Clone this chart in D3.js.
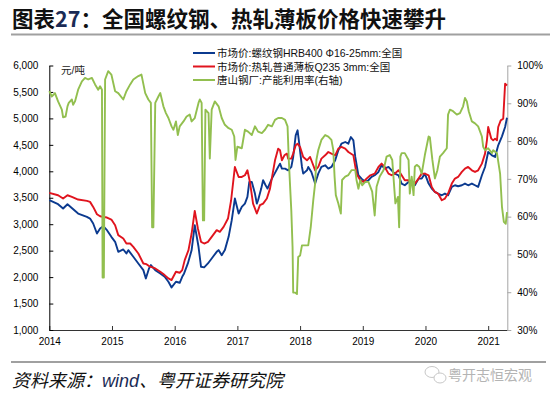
<!DOCTYPE html>
<html>
<head>
<meta charset="utf-8">
<script src="https://cdn.jsdelivr.net/npm/d3@7"></script>
<style>
  body { margin: 0; background: #fff; }
  text { font-family: "Liberation Sans", Arial, "Noto Sans CJK SC", sans-serif; }
</style>
</head>
<body>
<div id="chart"></div>
<script>
var width = 550;
var height = 398;

// ticks
var years = [2014, 2015, 2016, 2017, 2018, 2019, 2020, 2021];
var leftTicks = [1000, 1500, 2000, 2500, 3000, 3500, 4000, 4500, 5000, 5500, 6000];
var rightTicks = [30, 40, 50, 60, 70, 80, 90, 100];

var seriesNames = [
  "市场价:螺纹钢HRB400 Φ16-25mm:全国",
  "市场价:热轧普通薄板Q235 3mm:全国",
  "唐山钢厂:产能利用率(右轴)"
];
var seriesColors = ["#0b3a8f", "#e0141e", "#92bf4f"];

// [year, 元/吨] 螺纹钢
var rebar = [
  [2014.00, 3453], [2014.14, 3378], [2014.22, 3296], [2014.29, 3378], [2014.46, 3202],
  [2014.60, 3139], [2014.65, 3107], [2014.70, 3013], [2014.76, 2824], [2014.81, 2918],
  [2014.86, 2962], [2014.92, 2887], [2014.99, 2761], [2015.05, 2667], [2015.10, 2478],
  [2015.18, 2522], [2015.23, 2447], [2015.26, 2510], [2015.34, 2384], [2015.42, 2258],
  [2015.50, 2132], [2015.54, 1975], [2015.59, 2164], [2015.62, 2227], [2015.69, 2132],
  [2015.77, 2069], [2015.84, 2006], [2015.90, 1912], [2015.95, 1805], [2016.02, 1912],
  [2016.08, 1893], [2016.12, 2006], [2016.15, 2069], [2016.21, 2258], [2016.27, 2510],
  [2016.32, 2981], [2016.38, 2573], [2016.42, 2195], [2016.47, 2183], [2016.53, 2258],
  [2016.59, 2352], [2016.67, 2478], [2016.70, 2510], [2016.75, 2415], [2016.80, 2510],
  [2016.86, 2761], [2016.91, 3076], [2016.96, 3485], [2017.02, 3202], [2017.07, 3327],
  [2017.12, 3390], [2017.16, 3516], [2017.19, 3799], [2017.23, 3799], [2017.28, 3579],
  [2017.31, 3390], [2017.33, 3453], [2017.38, 3673], [2017.41, 3831], [2017.45, 3736],
  [2017.48, 3673], [2017.55, 3862], [2017.60, 3970], [2017.65, 4082], [2017.68, 4145],
  [2017.71, 4051], [2017.76, 4051], [2017.81, 4019], [2017.86, 4082], [2017.89, 4271],
  [2017.93, 4680], [2017.96, 4774], [2017.98, 4585], [2018.03, 4082], [2018.05, 3956],
  [2018.11, 4019], [2018.13, 4082], [2018.18, 3988], [2018.24, 3768], [2018.29, 3956],
  [2018.34, 4082], [2018.40, 4114], [2018.45, 4051], [2018.50, 4082], [2018.56, 4208],
  [2018.61, 4397], [2018.66, 4522], [2018.72, 4554], [2018.77, 4522], [2018.81, 4648],
  [2018.85, 4585], [2018.88, 4271], [2018.93, 3925], [2018.98, 3862], [2019.04, 3799],
  [2019.09, 3831], [2019.14, 3893], [2019.19, 3925], [2019.25, 3988], [2019.30, 4114],
  [2019.35, 4051], [2019.41, 4082], [2019.46, 4019], [2019.51, 3956], [2019.57, 3925],
  [2019.62, 3768], [2019.67, 3736], [2019.73, 3799], [2019.78, 3831], [2019.83, 3736],
  [2019.89, 3862], [2019.94, 3862], [2019.99, 3956], [2020.05, 3768], [2020.10, 3673],
  [2020.15, 3610], [2020.20, 3579], [2020.26, 3547], [2020.31, 3579], [2020.36, 3547],
  [2020.42, 3705], [2020.47, 3736], [2020.52, 3717], [2020.58, 3736], [2020.63, 3768],
  [2020.68, 3736], [2020.74, 3768], [2020.79, 3736], [2020.84, 3705], [2020.90, 3925],
  [2020.95, 4082], [2021.00, 4365], [2021.06, 4302], [2021.11, 4271], [2021.16, 4491],
  [2021.22, 4661], [2021.27, 4837], [2021.30, 5013]
];

// [year, 元/吨] 热轧薄板
var hotRolled = [
  [2014.00, 3591], [2014.14, 3547], [2014.22, 3485], [2014.29, 3547], [2014.36, 3516],
  [2014.46, 3466], [2014.60, 3440], [2014.65, 3422], [2014.70, 3327], [2014.76, 3189],
  [2014.81, 3151], [2014.86, 3139], [2014.92, 3126], [2014.99, 3088], [2015.05, 2981],
  [2015.10, 2793], [2015.18, 2730], [2015.23, 2635], [2015.29, 2635], [2015.34, 2572],
  [2015.42, 2447], [2015.50, 2258], [2015.55, 2245], [2015.59, 2208], [2015.69, 2164],
  [2015.77, 2101], [2015.84, 2038], [2015.90, 1975], [2015.95, 1944], [2016.02, 2101],
  [2016.08, 2082], [2016.12, 2132], [2016.16, 2321], [2016.22, 2510], [2016.27, 2824],
  [2016.32, 3252], [2016.37, 2918], [2016.42, 2667], [2016.47, 2635], [2016.53, 2667],
  [2016.59, 2761], [2016.67, 2887], [2016.72, 2856], [2016.78, 2950], [2016.85, 3107],
  [2016.90, 3453], [2016.96, 4082], [2017.02, 3893], [2017.07, 3893], [2017.12, 3925],
  [2017.16, 4019], [2017.20, 3799], [2017.25, 3390], [2017.31, 3202], [2017.36, 3359],
  [2017.41, 3390], [2017.47, 3485], [2017.52, 3673], [2017.60, 4208], [2017.65, 4428],
  [2017.68, 4397], [2017.71, 4208], [2017.75, 4302], [2017.79, 4334], [2017.81, 4239],
  [2017.86, 4239], [2017.89, 4334], [2017.93, 4491], [2017.96, 4522], [2018.00, 4460],
  [2018.05, 4271], [2018.11, 4208], [2018.16, 4271], [2018.21, 4114], [2018.24, 4019],
  [2018.29, 4082], [2018.34, 4239], [2018.40, 4302], [2018.45, 4365], [2018.50, 4334],
  [2018.56, 4302], [2018.61, 4428], [2018.66, 4460], [2018.72, 4428], [2018.77, 4365],
  [2018.85, 4302], [2018.90, 3956], [2018.96, 3831], [2019.01, 3799], [2019.06, 3862],
  [2019.12, 3925], [2019.19, 3956], [2019.25, 4082], [2019.30, 4145], [2019.35, 4082],
  [2019.41, 3956], [2019.46, 3925], [2019.51, 3956], [2019.57, 4019], [2019.62, 3925],
  [2019.67, 3831], [2019.73, 3831], [2019.78, 3768], [2019.83, 3768], [2019.89, 3862],
  [2019.94, 3956], [2019.99, 3956], [2020.05, 3925], [2020.10, 3705], [2020.15, 3610],
  [2020.20, 3579], [2020.26, 3453], [2020.31, 3485], [2020.36, 3579], [2020.42, 3768],
  [2020.47, 3862], [2020.52, 3893], [2020.58, 3988], [2020.63, 4051], [2020.68, 4082],
  [2020.74, 4019], [2020.79, 3988], [2020.84, 4019], [2020.90, 4145], [2020.95, 4334],
  [2020.98, 4585], [2021.00, 4837], [2021.05, 4617], [2021.08, 4585], [2021.11, 4617],
  [2021.14, 4585], [2021.16, 4837], [2021.20, 4963], [2021.24, 4994], [2021.27, 5655],
  [2021.30, 5623]
];

// [year, %] 唐山钢厂产能利用率
var util = [
  [2014.00, 93.2], [2014.04, 91.8], [2014.09, 92.7], [2014.14, 90.5], [2014.20, 88.3],
  [2014.22, 86.3], [2014.26, 86.5], [2014.29, 89.2], [2014.31, 90.1], [2014.36, 91.0],
  [2014.38, 89.6], [2014.41, 90.5], [2014.46, 93.6], [2014.52, 95.8], [2014.57, 96.7],
  [2014.62, 96.3], [2014.68, 96.7], [2014.73, 95.0], [2014.78, 93.6], [2014.81, 94.5],
  [2014.84, 93.6], [2014.85, 43.9], [2014.87, 43.9], [2014.89, 96.3], [2014.94, 98.5],
  [2014.99, 97.6], [2015.05, 93.2], [2015.10, 92.7], [2015.18, 91.0], [2015.23, 93.2],
  [2015.29, 95.0], [2015.34, 96.3], [2015.42, 97.2], [2015.47, 97.6], [2015.53, 92.7],
  [2015.58, 91.0], [2015.62, 90.1], [2015.64, 57.2], [2015.66, 57.2], [2015.69, 90.1],
  [2015.74, 91.8], [2015.77, 92.7], [2015.82, 89.2], [2015.86, 87.4], [2015.90, 86.1],
  [2015.95, 83.9], [2015.98, 83.0], [2016.02, 85.2], [2016.05, 81.6], [2016.08, 83.9],
  [2016.14, 85.2], [2016.19, 86.5], [2016.24, 87.0], [2016.27, 85.2], [2016.32, 86.1],
  [2016.38, 90.1], [2016.40, 91.0], [2016.43, 90.1], [2016.45, 59.0], [2016.47, 59.0],
  [2016.49, 88.3], [2016.54, 87.4], [2016.56, 75.4], [2016.59, 88.3], [2016.64, 90.5],
  [2016.70, 89.2], [2016.75, 86.1], [2016.80, 84.3], [2016.86, 83.4], [2016.91, 83.0],
  [2016.95, 81.2], [2016.97, 75.0], [2017.00, 78.5], [2017.07, 78.1], [2017.12, 83.0],
  [2017.17, 82.5], [2017.23, 81.6], [2017.28, 83.9], [2017.33, 82.5], [2017.39, 82.1],
  [2017.44, 83.0], [2017.49, 84.3], [2017.55, 83.9], [2017.60, 85.6], [2017.65, 86.1],
  [2017.71, 86.1], [2017.76, 85.6], [2017.80, 83.9], [2017.82, 75.0], [2017.86, 61.6],
  [2017.88, 51.9], [2017.89, 39.9], [2017.92, 39.9], [2017.95, 39.5], [2017.97, 49.3],
  [2018.00, 49.7], [2018.03, 52.4], [2018.08, 52.4], [2018.13, 52.4], [2018.17, 57.2],
  [2018.21, 64.3], [2018.24, 68.8], [2018.26, 75.0], [2018.29, 77.6], [2018.34, 80.3],
  [2018.40, 81.6], [2018.45, 81.2], [2018.50, 80.3], [2018.53, 77.6], [2018.55, 70.6],
  [2018.57, 65.7], [2018.61, 63.5], [2018.65, 60.8], [2018.67, 69.7], [2018.72, 70.6],
  [2018.77, 71.0], [2018.82, 72.3], [2018.88, 72.3], [2018.90, 69.7], [2018.93, 67.4],
  [2018.96, 69.7], [2018.99, 68.3], [2019.04, 69.2], [2019.09, 69.2], [2019.15, 66.6],
  [2019.19, 60.3], [2019.22, 67.9], [2019.27, 70.6], [2019.33, 72.3], [2019.38, 75.9],
  [2019.43, 76.3], [2019.47, 75.0], [2019.52, 63.5], [2019.56, 65.2], [2019.58, 57.2],
  [2019.60, 75.9], [2019.62, 76.8], [2019.67, 76.8], [2019.73, 75.0], [2019.75, 66.1],
  [2019.78, 70.6], [2019.81, 65.7], [2019.83, 73.2], [2019.86, 73.7], [2019.90, 73.2],
  [2019.94, 71.4], [2019.99, 76.3], [2020.05, 81.2], [2020.07, 81.0], [2020.11, 75.0],
  [2020.15, 70.1], [2020.19, 72.3], [2020.23, 75.9], [2020.28, 76.8], [2020.34, 78.1],
  [2020.36, 87.0], [2020.39, 88.3], [2020.44, 87.9], [2020.50, 87.0], [2020.55, 87.4],
  [2020.60, 89.2], [2020.63, 91.4], [2020.66, 90.5], [2020.69, 87.9], [2020.74, 85.2],
  [2020.79, 84.7], [2020.84, 83.9], [2020.90, 81.2], [2020.92, 78.5], [2020.95, 77.6],
  [2021.00, 78.1], [2021.06, 76.8], [2021.08, 77.6], [2021.14, 76.8], [2021.19, 71.4],
  [2021.22, 62.6], [2021.25, 58.6], [2021.28, 58.1], [2021.30, 61.2]
];

var svg = d3.select("#chart").append("svg")
    .attr("width", width)
    .attr("height", height)
    .style("display", "block");

svg.append("rect").attr("width", width).attr("height", height).attr("fill", "#fff");

// 标题
var title = svg.append("text")
    .attr("x", 12)
    .attr("y", 27)
    .style("font-family", "'Noto Sans CJK SC', sans-serif")
    .style("font-size", "21.5px")
    .style("font-weight", "bold")
    .attr("fill", "#111");
title.append("tspan").text("图表");
title.append("tspan").attr("fill", "#1b2b55").text("27");
title.append("tspan").text("：全国螺纹钢、热轧薄板价格快速攀升");

svg.append("line")
    .attr("x1", 11).attr("x2", 550)
    .attr("y1", 34.5).attr("y2", 34.5)
    .attr("stroke", "#a0a0a0").attr("stroke-width", 2);

// scales
var x = d3.scaleLinear().domain([2014, 2021.305]).range([49.3, 507.3]);
var yL = d3.scaleLinear().domain([1000, 6000]).range([330, 65.5]);
var yR = d3.scaleLinear().domain([30, 100]).range([330, 65.5]);

// axes
var gx = svg.append("g")
    .attr("transform", "translate(0,330)")
    .call(d3.axisBottom(x).tickValues(years).tickFormat(d3.format("d"))
      .tickSizeInner(-4).tickSizeOuter(0).tickPadding(8));
gx.select(".domain").attr("stroke", "#333");
gx.selectAll(".tick line").attr("stroke", "#333");

var gl = svg.append("g")
    .attr("transform", "translate(49.3,0)")
    .call(d3.axisLeft(yL).tickValues(leftTicks).tickFormat(d3.format(","))
      .tickSizeInner(-4).tickSizeOuter(0).tickPadding(11));
gl.select(".domain").attr("stroke", "#000");

var gr = svg.append("g")
    .attr("transform", "translate(507.3,0)")
    .call(d3.axisRight(yR).tickValues(rightTicks).tickFormat(function(d) { return d + "%"; })
      .tickSizeInner(4).tickSizeOuter(0).tickPadding(6));
gr.select(".domain").attr("stroke", "#a6a6a6");
gr.selectAll(".tick line").attr("stroke", "#a6a6a6");

svg.selectAll(".tick text")
    .style("font-family", "'Liberation Sans', Arial, sans-serif")
    .style("font-size", "10px")
    .attr("fill", "#000");

// 单位
svg.append("text")
    .attr("x", 61).attr("y", 70)
    .attr("dominant-baseline", "central")
    .style("font-size", "10.5px")
    .attr("fill", "#222")
    .text("元/吨");

// lines
var lineL = d3.line().x(function(d) { return x(d[0]); }).y(function(d) { return yL(d[1]); });
var lineR = d3.line().x(function(d) { return x(d[0]); }).y(function(d) { return yR(d[1]); });

svg.append("path").datum(rebar)
    .attr("d", lineL).attr("fill", "none")
    .attr("stroke", seriesColors[0]).attr("stroke-width", 1.9).attr("stroke-linejoin", "round");
svg.append("path").datum(hotRolled)
    .attr("d", lineL).attr("fill", "none")
    .attr("stroke", seriesColors[1]).attr("stroke-width", 1.9).attr("stroke-linejoin", "round");
svg.append("path").datum(util)
    .attr("d", lineR).attr("fill", "none")
    .attr("stroke", seriesColors[2]).attr("stroke-width", 1.9).attr("stroke-linejoin", "round");

// 图例
var legend = svg.append("g").selectAll("g")
    .data(seriesNames)
    .enter().append("g")
    .attr("transform", function(d, i) { return "translate(193," + (53 + i * 13.5) + ")"; });
legend.append("line")
    .attr("x1", 0).attr("x2", 22)
    .attr("stroke", function(d, i) { return seriesColors[i]; })
    .attr("stroke-width", 2);
legend.append("text")
    .attr("x", 24)
    .attr("dominant-baseline", "central")
    .style("font-size", "10.5px")
    .attr("fill", "#111")
    .text(function(d) { return d; });

// 来源
svg.append("line")
    .attr("x1", 11).attr("x2", 546)
    .attr("y1", 362).attr("y2", 362)
    .attr("stroke", "#a0a0a0").attr("stroke-width", 2);

var src = svg.append("text")
    .attr("x", 12).attr("y", 387)
    .style("font-family", "'Noto Sans CJK SC', sans-serif")
    .style("font-size", "18px")
    .style("font-style", "italic")
    .attr("fill", "#111");
src.append("tspan").text("资料来源：");
src.append("tspan").attr("fill", "#1b2b55").style("font-family", "'Liberation Sans', Arial, sans-serif").text("wind");
src.append("tspan").text("、粤开证券研究院");

// 水印
var wm = svg.append("g").attr("fill", "#fff").attr("stroke", "#c8c8c8").attr("stroke-width", 1);
wm.append("ellipse").attr("cx", 432).attr("cy", 372).attr("rx", 7).attr("ry", 5.5);
wm.append("ellipse").attr("cx", 440).attr("cy", 378).attr("rx", 6).attr("ry", 5);
svg.append("text")
    .attr("x", 448).attr("y", 380)
    .style("font-family", "'Noto Sans CJK SC', sans-serif")
    .style("font-size", "14px")
    .attr("fill", "#b4b4b4")
    .text("粤开志恒宏观");
</script>
</body>
</html>
